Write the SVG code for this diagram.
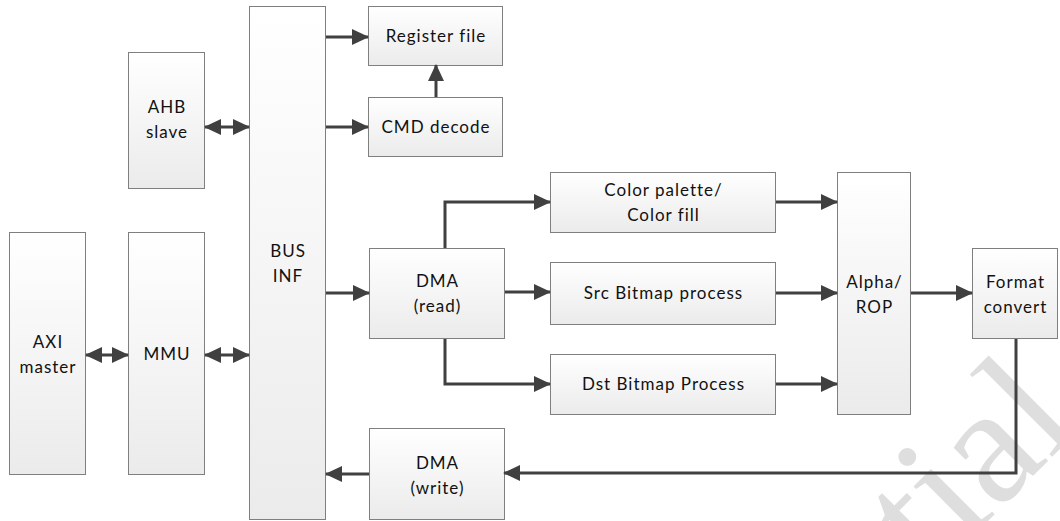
<svg xmlns="http://www.w3.org/2000/svg" width="1060" height="521" viewBox="0 0 1060 521">
<defs>
<linearGradient id="g" x1="0" y1="0" x2="0" y2="1">
<stop offset="0" stop-color="#ffffff"/>
<stop offset="1" stop-color="#ebebeb"/>
</linearGradient>
<marker id="ah" markerUnits="userSpaceOnUse" markerWidth="17" markerHeight="16" refX="16" refY="8" orient="auto-start-reverse">
<path d="M0,0 L17,8 L0,16 z" fill="#404040"/>
</marker>
<style>
.box{fill:url(#g);stroke:#7f7f7f;stroke-width:1}
.t{font-family:Lato,"Liberation Sans",sans-serif;font-size:17px;letter-spacing:1px;fill:#111;text-anchor:middle}
.c path{fill:none;stroke:#404040;stroke-width:3;marker-end:url(#ah)}
.c path.bi{marker-start:url(#ah)}
</style>
</defs>
<rect width="1060" height="521" fill="#fff"/>
<text x="931" y="578" transform="rotate(-45 931 578)" font-family="Liberation Serif,serif" font-size="168" fill="#dedede">tial</text>
<g id="axi"><rect class="box" x="9.5" y="232.5" width="76" height="242"/><text class="t" x="48" y="348">AXI</text><text class="t" x="48" y="373">master</text></g>
<g id="mmu"><rect class="box" x="128.5" y="232.5" width="76" height="242"/><text class="t" x="167" y="360">MMU</text></g>
<g id="ahb"><rect class="box" x="128.5" y="52.5" width="76" height="136"/><text class="t" x="167" y="113">AHB</text><text class="t" x="167" y="138">slave</text></g>
<g id="bus"><rect class="box" x="249.5" y="6.5" width="76" height="513"/><text class="t" x="288" y="257">BUS</text><text class="t" x="288" y="282">INF</text></g>
<g id="reg"><rect class="box" x="368.5" y="6.5" width="134" height="59"/><text class="t" x="436" y="42">Register file</text></g>
<g id="cmd"><rect class="box" x="368.5" y="97.5" width="134" height="59"/><text class="t" x="436" y="133">CMD decode</text></g>
<g id="dmar"><rect class="box" x="369.5" y="248.5" width="135" height="90"/><text class="t" x="437.5" y="287">DMA</text><text class="t" x="437.5" y="312">(read)</text></g>
<g id="dmaw"><rect class="box" x="369.5" y="428.5" width="135" height="91"/><text class="t" x="437.5" y="469">DMA</text><text class="t" x="437.5" y="494">(write)</text></g>
<g id="color"><rect class="box" x="550.5" y="172.5" width="225" height="60"/><text class="t" x="663.5" y="196">Color palette/</text><text class="t" x="663.5" y="221">Color fill</text></g>
<g id="src"><rect class="box" x="550.5" y="262.5" width="225" height="62"/><text class="t" x="663.5" y="299">Src Bitmap process</text></g>
<g id="dst"><rect class="box" x="550.5" y="354.5" width="225" height="60"/><text class="t" x="663.5" y="390">Dst Bitmap Process</text></g>
<g id="alpha"><rect class="box" x="837.5" y="172.5" width="73" height="242"/><text class="t" x="874.5" y="288">Alpha/</text><text class="t" x="874.5" y="313">ROP</text></g>
<g id="fmt"><rect class="box" x="972.5" y="248.5" width="85" height="90"/><text class="t" x="1015.5" y="288">Format</text><text class="t" x="1015.5" y="313">convert</text></g>
<g id="connectors" class="c">
<path d="M326 37H368"/>
<path d="M326 127H368"/>
<path d="M436 97V65"/>
<path class="bi" d="M205 127H249"/>
<path class="bi" d="M86 355H128"/>
<path class="bi" d="M205 355H249"/>
<path d="M326 293H369"/>
<path d="M445 248V202H550"/>
<path d="M505 292H550"/>
<path d="M445 339V384H550"/>
<path d="M776 202H837"/>
<path d="M776 293H837"/>
<path d="M776 384H837"/>
<path d="M911 293H972"/>
<path d="M1016 339V473H504"/>
<path d="M369 474H326"/>
</g>
</svg>
